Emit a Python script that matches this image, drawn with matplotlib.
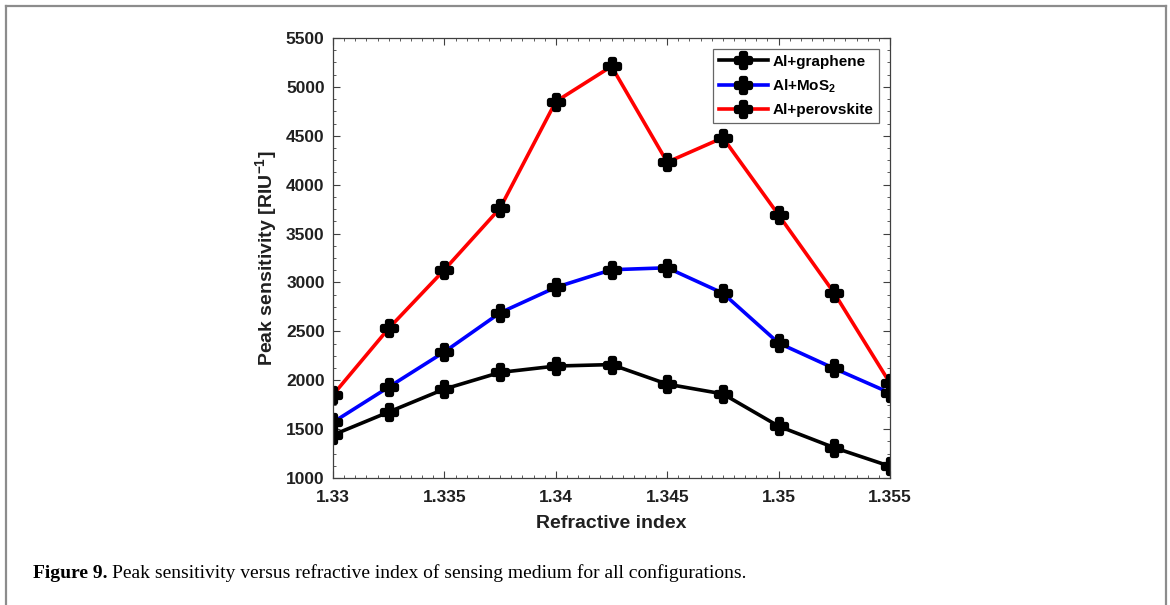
import numpy as np
import matplotlib
matplotlib.use('Agg')
from matplotlib import pyplot as plt
from matplotlib.lines import Line2D
from matplotlib.markers import MarkerStyle
from matplotlib.ticker import MultipleLocator

plt.rcParams['font.family'] = ['Liberation Sans', 'DejaVu Sans']
plt.rcParams['mathtext.fontset'] = 'custom'
plt.rcParams['mathtext.rm'] = 'Liberation Sans:bold'
plt.rcParams['mathtext.bf'] = 'Liberation Sans:bold'
plt.rcParams['mathtext.it'] = 'Liberation Sans:bold'

# 数据
refractive_index = [1.33, 1.3325, 1.335, 1.3375, 1.34, 1.3425, 1.345, 1.3475, 1.35, 1.3525, 1.355]
al_graphene = [1440, 1675, 1910, 2080, 2145, 2160, 1960, 1860, 1530, 1310, 1120]
al_mos2 = [1570, 1930, 2290, 2690, 2950, 3130, 3150, 2890, 2380, 2120, 1870]
al_perovskite = [1850, 2530, 3130, 3760, 4850, 5210, 4230, 4480, 3690, 2890, 1970]

series_labels = ['Al+graphene', r'Al+MoS$_{2}$', 'Al+perovskite']
series_colors = ['black', 'blue', 'red']
x_ticks = [1.33, 1.335, 1.34, 1.345, 1.35, 1.355]
x_tick_labels = ['1.33', '1.335', '1.34', '1.345', '1.35', '1.355']

fig = plt.figure(figsize=(11.7, 6.05), dpi=100)
ax = fig.add_axes([0.2846, 0.2099, 0.4761, 0.7273])

marker = MarkerStyle('P', joinstyle='round')
for values, label, color in zip([al_graphene, al_mos2, al_perovskite], series_labels, series_colors):
    ax.plot(refractive_index, values, color=color, lw=2.6, label=label,
            marker=marker, markersize=10, markerfacecolor='black',
            markeredgecolor='black', markeredgewidth=3.8)

ax.set_xlim(1.33, 1.355)
ax.set_ylim(1000, 5500)
ax.set_xticks(x_ticks)
ax.set_xticklabels(x_tick_labels)
ax.yaxis.set_major_locator(MultipleLocator(500))
ax.xaxis.set_minor_locator(MultipleLocator(0.0005))
ax.yaxis.set_minor_locator(MultipleLocator(125))
ax.tick_params(which='both', direction='in', top=True, right=True, colors='#404040',
               labelcolor='#202020')
ax.tick_params(which='major', length=5, width=0.8, labelsize=12.5)
ax.tick_params(which='minor', length=2.5, width=0.6)
ax.tick_params(axis='x', which='major', pad=8.5)
ax.tick_params(axis='y', which='major', pad=6)
for lab in ax.get_xticklabels() + ax.get_yticklabels():
    lab.set_fontweight('bold')
for sp in ax.spines.values():
    sp.set_color('#404040')
    sp.set_linewidth(0.9)

ax.set_xlabel('Refractive index', fontsize=14, fontweight='bold', color='#202020', labelpad=7)
ax.set_ylabel(r'Peak sensitivity [RIU$^{-1}$]', fontsize=14, fontweight='bold', color='#202020', labelpad=5)

leg = ax.legend(loc='upper right', prop={'weight': 'bold', 'size': 11},
                frameon=True, fancybox=False, edgecolor='#404040',
                handlelength=3.2, handletextpad=0.3, borderpad=0.4, labelspacing=0.55,
                borderaxespad=0.7)
leg.get_frame().set_linewidth(0.9)

# 外框
border = dict(color='#8c8c8c', lw=1.6, transform=fig.transFigure)
fig.add_artist(Line2D([0.005, 0.005], [0.0, 0.99], **border))
fig.add_artist(Line2D([0.9965, 0.9965], [0.0, 0.99], **border))
fig.add_artist(Line2D([0.005, 0.9965], [0.99, 0.99], **border))

# 图注
fig.text(0.028, 0.045, 'Figure 9.', fontsize=14, fontweight='bold',
         family=['Liberation Serif', 'DejaVu Serif'], va='baseline')
fig.text(0.096, 0.045, 'Peak sensitivity versus refractive index of sensing medium for all configurations.',
         fontsize=14, family=['Liberation Serif', 'DejaVu Serif'], va='baseline')

fig.savefig('out.png', dpi=100)
